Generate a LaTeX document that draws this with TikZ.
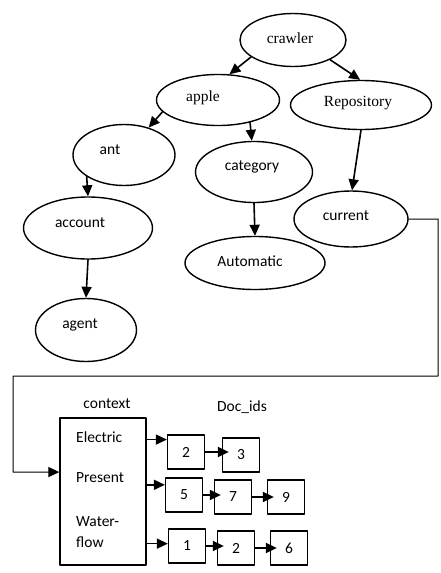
\documentclass[tikz,border=0pt]{standalone}
\usepackage{fontspec}
\setmainfont{Liberation Serif}
\newfontfamily\calib{Carlito}
\usepackage{tikz}
\usetikzlibrary{shapes.geometric,arrows.meta,positioning}

\begin{document}
\begin{tikzpicture}[x=1pt, y=-1pt, >={Triangle[length=11pt,width=10pt]},
  line cap=round, line join=round,
  oval/.style={ellipse, draw, line width=1.4pt, inner sep=0pt},
  serif/.style={font=\fontsize{15.5}{19}\selectfont},
  sans/.style={font=\calib\fontsize{15.5}{19}\selectfont},
  item/.style={sans, anchor=west, inner sep=0pt, align=left},
  idbox/.style={rectangle, draw, line width=1.3pt, minimum width=37pt,
    minimum height=34pt, inner sep=0pt, sans},
  link/.style={->, line width=1.6pt},
  nextid/.style={->, line width=1.6pt, shorten >=-7pt}]

\useasboundingbox (0,0) rectangle (441,573);

% ------------------ TOP: crawler tree ------------------
\node[oval, minimum width=106pt, minimum height=53pt,
  label={[serif, xshift=-3pt, yshift=2pt]center:crawler}] (crawler) at (293,40) {};
\node[oval, minimum width=123pt, minimum height=51pt,
  label={[serif, xshift=-15pt, yshift=2pt]center:apple}] (apple) at (218,100) {};
\node[oval, minimum width=141pt, minimum height=49pt,
  label={[serif, xshift=-3pt, yshift=2pt]center:Repository}] (repo) at (361,105) {};
\node[oval, minimum width=102pt, minimum height=61pt,
  label={[sans, xshift=-14pt, yshift=5pt]center:ant}] (ant) at (124,155) {};
\node[oval, minimum width=117pt, minimum height=61pt,
  label={[sans, xshift=-2pt, yshift=5pt]center:category}] (category) at (254,172) {};
\node[oval, minimum width=114pt, minimum height=56pt,
  label={[sans, xshift=-5pt, yshift=3pt]center:current}] (current) at (351,219) {};
\node[oval, minimum width=129pt, minimum height=62pt,
  label={[sans, xshift=-8pt, yshift=5pt]center:account}] (account) at (88,228) {};
\node[oval, minimum width=140pt, minimum height=53pt,
  label={[sans, xshift=-5pt, yshift=2pt]center:Automatic}] (automatic) at (255,263) {};
\node[oval, minimum width=101pt, minimum height=63pt,
  label={[sans, xshift=-6pt, yshift=5pt]center:agent}] (agent) at (86,330) {};

% tree edges
\draw[link] (crawler.202) -- (apple.66);
\draw[link] (crawler.332) -- (repo.92);
\draw[link] (apple.192) -- (ant.48);
\draw[link] (apple.325) -- (category.94);
\draw[link] (repo.270) -- (current.88);
\draw[link] (ant.210) -- (account.north);
\draw[link] (category.south) -- (automatic.north);
\draw[link] (account.south) -- (agent.north);

% ------------------ BOTTOM: context index ------------------
\node[draw, line width=1.3pt, minimum width=86pt, minimum height=147pt,
  inner sep=0pt] (context) at (103,491.5) {};
\node[sans] (ctxlabel) at (107,404) {context};
\node[sans] (docids) at (242,407) {Doc\_ids};

\node[item] (electric) at (76,437) {Electric};
\node[item] (present) at (76,478) {Present};
\node[item, font=\calib\fontsize{15.5}{21}\selectfont] (water) at (76,532) {Water-\\flow};

% doc id lists
\node[idbox] (e1) at (186,452) {2};
\node[idbox] (e2) at (241,455) {3};
\node[idbox] (p1) at (184,495) {5};
\node[idbox] (p2) at (233,497) {7};
\node[idbox] (p3) at (286,497) {9};
\node[idbox] (w1) at (187,546) {1};
\node[idbox] (w2) at (236,548) {2};
\node[idbox] (w3) at (289,548) {6};

% from the context box into the lists
\draw[link] (context.east |- e1.147) -- (e1.147);
\draw[link] (context.east |- p1.152) -- (p1.152);
\draw[link] (context.east |- w1.173) -- (w1.173);

% list links
\draw[nextid] (e1.east) -- (e2.west |- e1.east);
\draw[nextid] (p1.east) -- (p2.west |- p1.east);
\draw[nextid] (p2.east) -- (p3.west |- p2.east);
\draw[nextid] (w1.east) -- (w2.west |- w1.east);
\draw[nextid] (w2.east) -- (w3.west |- w2.east);

% link from current to the context box
\coordinate (turn) at (438,376);
\draw[->, line width=1pt] (current.east) -| (turn) -| (13,472) -- (context.156);

\end{tikzpicture}
\end{document}
